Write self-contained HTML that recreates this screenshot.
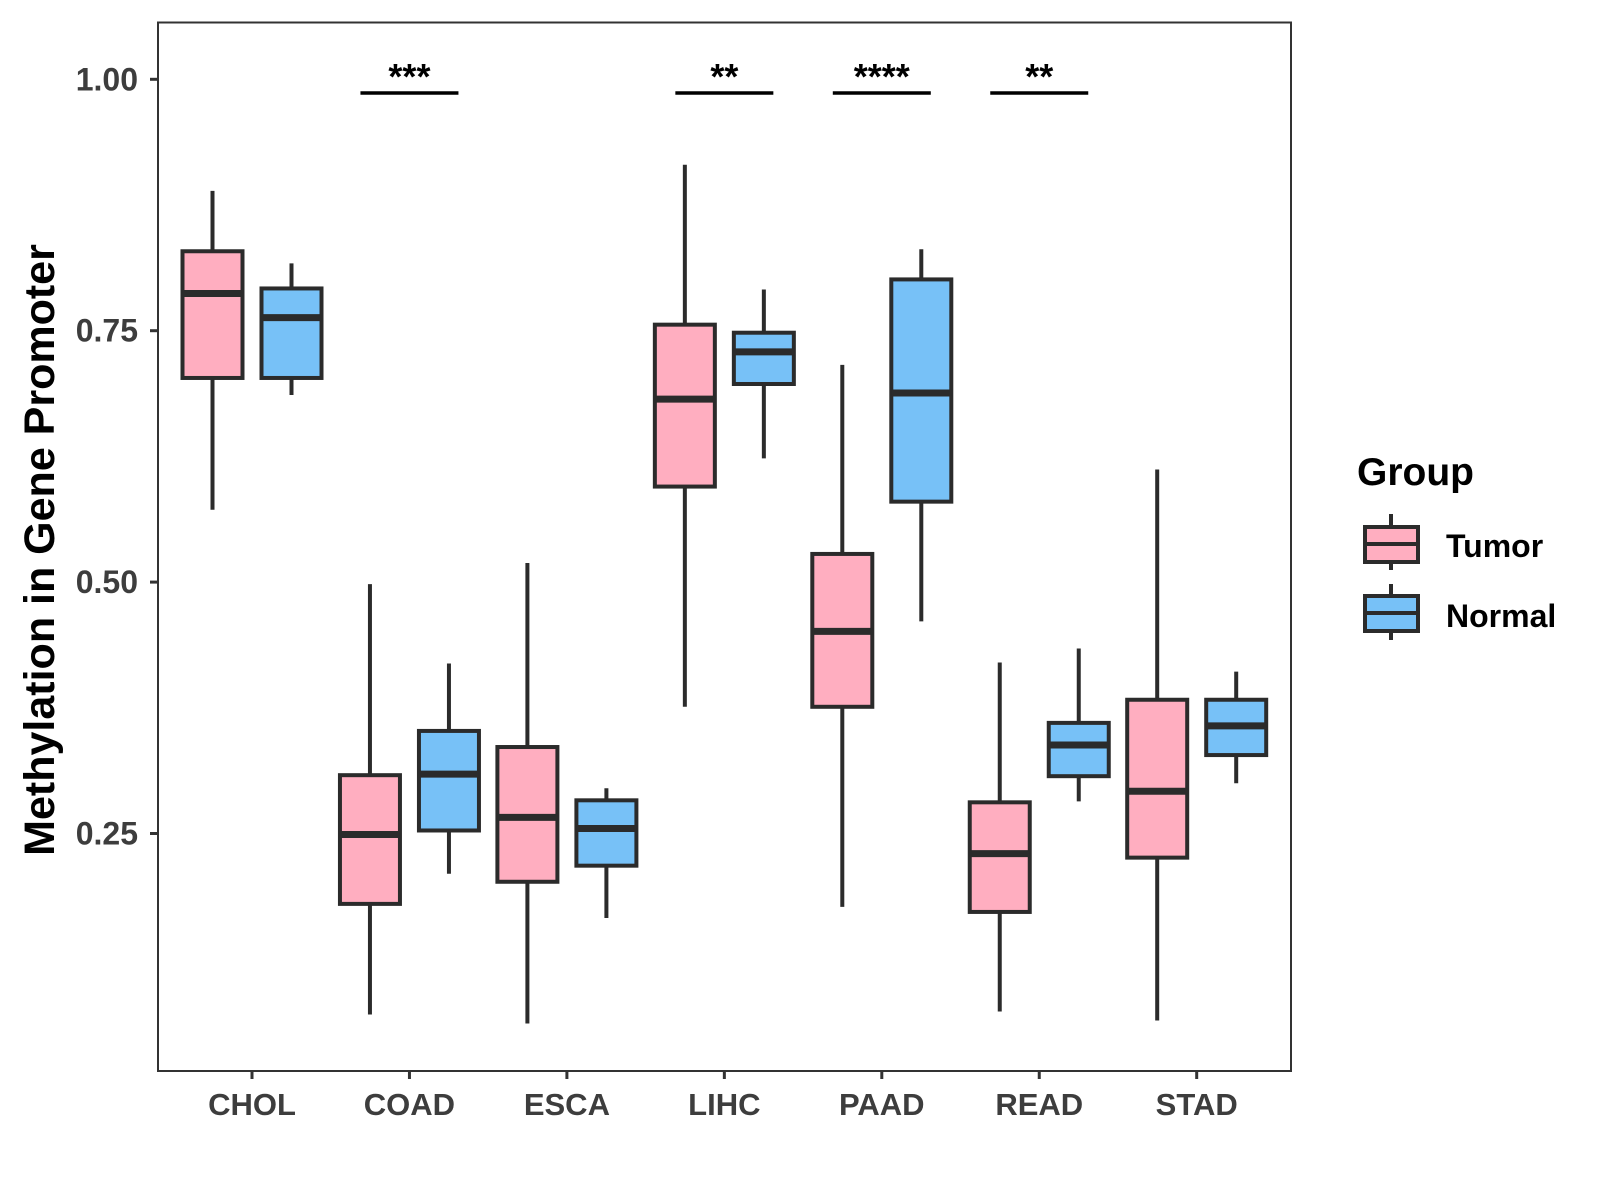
<!DOCTYPE html>
<html><head><meta charset="utf-8"><style>
html,body{margin:0;padding:0;background:#fff}
svg{display:block}
text{font-family:"Liberation Sans",Arial,sans-serif;font-weight:bold}
</style></head><body>
<svg id="chart" width="1600" height="1200" xmlns="http://www.w3.org/2000/svg">
<rect x="158" y="22.5" width="1133" height="1048.5" fill="#fff" stroke="#333" stroke-width="2"/>
<g id="yaxis"></g>
<g id="xaxis"></g>
<g id="boxes"></g>
<g id="sig"></g>
<text x="54" y="550" transform="rotate(-90 54 550)" text-anchor="middle" font-size="43" fill="#000">Methylation in Gene Promoter</text>
<g transform="translate(-7,0)">
<text x="1364" y="485" font-size="39" fill="#000">Group</text>
<g>
<line x1="1398" y1="514" x2="1398" y2="570" stroke="#2b2b2b" stroke-width="4"/>
<rect x="1372" y="527" width="53" height="35" fill="#FFAEC0" stroke="#2b2b2b" stroke-width="4"/>
<line x1="1372" y1="544" x2="1425" y2="544" stroke="#2b2b2b" stroke-width="4"/>
<text x="1453" y="557" font-size="32" fill="#000">Tumor</text>
</g>
<g>
<line x1="1398" y1="584" x2="1398" y2="640" stroke="#2b2b2b" stroke-width="4"/>
<rect x="1372" y="596" width="53" height="35" fill="#77C1F7" stroke="#2b2b2b" stroke-width="4"/>
<line x1="1372" y1="613" x2="1425" y2="613" stroke="#2b2b2b" stroke-width="4"/>
<text x="1453" y="627" font-size="32" fill="#000">Normal</text>
</g>
</g>
</svg>
<script>
const categories = ["CHOL","COAD","ESCA","LIHC","PAAD","READ","STAD"];
// [lower whisker, q1, median, q3, upper whisker]
const tumorStats = [
 [0.572,0.703,0.787,0.829,0.889],
 [0.070,0.180,0.249,0.308,0.498],
 [0.061,0.202,0.266,0.336,0.519],
 [0.376,0.595,0.682,0.756,0.915],
 [0.177,0.376,0.451,0.528,0.716],
 [0.073,0.172,0.230,0.281,0.420],
 [0.064,0.226,0.292,0.383,0.612]
];
const normalStats = [
 [0.686,0.703,0.763,0.792,0.817],
 [0.210,0.253,0.309,0.352,0.419],
 [0.166,0.218,0.255,0.283,0.295],
 [0.623,0.697,0.729,0.748,0.791],
 [0.461,0.580,0.688,0.801,0.831],
 [0.282,0.307,0.338,0.360,0.434],
 [0.300,0.328,0.357,0.383,0.411]
];
const yTicks = [0.25,0.50,0.75,1.00];
const yTickLabels = ["0.25","0.50","0.75","1.00"];
const sigLabels = ["","***","","**","****","**",""];

const NS="http://www.w3.org/2000/svg";
function y(v){return 79.3+(1-v)*1005.6;}
function x(i){return 252+i*157.45;}
function mk(tag,attrs,parent){const e=document.createElementNS(NS,tag);for(const k in attrs)e.setAttribute(k,attrs[k]);parent.appendChild(e);return e;}
const ya=document.getElementById('yaxis'),xa=document.getElementById('xaxis'),bx=document.getElementById('boxes'),sg=document.getElementById('sig');
yTicks.forEach((t,i)=>{
 const l=mk('line',{x1:150,x2:158,y1:y(t),y2:y(t),stroke:'#333','stroke-width':3},ya);
 
 
 const tx=mk('text',{x:138,y:y(t)+11,'text-anchor':'end','font-size':32,fill:'#3d3d3d'},ya);
 tx.textContent=yTickLabels[i];
 
 
});
categories.forEach((c,i)=>{
 const l=mk('line',{x1:x(i),x2:x(i),y1:1071,y2:1079,stroke:'#333','stroke-width':3},xa);
 
 
 const tx=mk('text',{x:x(i),y:1115,'text-anchor':'middle','font-size':31,fill:'#3d3d3d'},xa);
 tx.textContent=c;
 
 
});
function box(cx,s,fill,name){
 const g=mk('g',{},bx);
 
 
 mk('line',{x1:cx,x2:cx,y1:y(s[4]),y2:y(s[0]),stroke:'#2b2b2b','stroke-width':4},g);
 mk('rect',{x:cx-30,y:y(s[3]),width:60,height:y(s[1])-y(s[3]),fill:fill,stroke:'#2b2b2b','stroke-width':4},g);
 mk('line',{x1:cx-30,x2:cx+30,y1:y(s[2]),y2:y(s[2]),stroke:'#2b2b2b','stroke-width':7},g);
}
categories.forEach((c,i)=>{
 box(x(i)-39.5,tumorStats[i],'#FFAEC0','box-tumor-'+c.toLowerCase());
 box(x(i)+39.5,normalStats[i],'#77C1F7','box-normal-'+c.toLowerCase());
 if(sigLabels[i]){
  const l=mk('line',{x1:x(i)-49,x2:x(i)+49,y1:93,y2:93,stroke:'#000','stroke-width':3.5},sg);
  
  
  const t=mk('text',{x:x(i),y:89,'text-anchor':'middle','font-size':36,fill:'#000'},sg);
  t.textContent=sigLabels[i];
  
  
 }
});
</script>
</body></html>
